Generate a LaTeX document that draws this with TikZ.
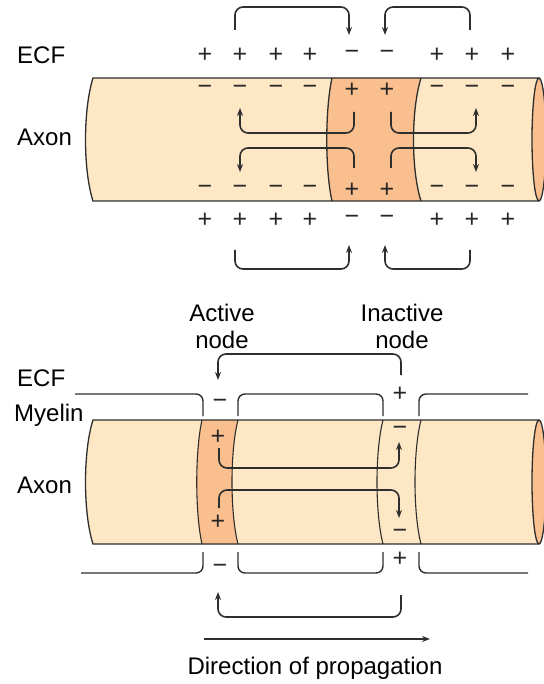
\documentclass[tikz,border=0pt]{standalone}
\usepackage{fontspec}
\setmainfont{Liberation Sans}
\usepackage{tikz}
\usetikzlibrary{arrows.meta,calc}
\usetikzlibrary{positioning}
\definecolor{axonfill}{HTML}{FDE7C4}
\definecolor{nodefill}{HTML}{F9BF8E}
\definecolor{linegray}{HTML}{2E2E2E}

\begin{document}
\begin{tikzpicture}[x=1pt,y=-1pt,>=Stealth,font=\fontsize{24}{27}\selectfont,
  current/.style={->,line width=1.6pt,draw=linegray,rounded corners=8pt,>={Stealth[length=8pt,width=6pt]}},
  outline/.style={line width=1.3pt,draw=linegray},
  myelin/.style={line width=1.4pt,draw=linegray,rounded corners=7pt},
  charge/.style={inner sep=0pt,font=\fontsize{25}{25}\selectfont,text=black!85},
  side/.style={inner sep=0pt,anchor=west}]
\useasboundingbox (0,0) rectangle (543,684);
% ---- continuous conduction (top) ----
\fill[axonfill] (93,78) .. controls (83,110) and (83,170) .. (93,201) -- (539,201) -- (539,78) -- cycle;
\fill[nodefill] (332,78) .. controls (325,110) and (325,170) .. (332,201) -- (421,201) .. controls (411,170) and (411,110) .. (421,78) -- cycle;
\draw[outline] (332,78) .. controls (325,110) and (325,170) .. (332,201);
\draw[outline] (421,78) .. controls (411,110) and (411,170) .. (421,201);
\draw[outline] (539,78) -- (93,78) .. controls (83,110) and (83,170) .. (93,201) -- (539,201);
\draw[outline,fill=nodefill] (539,139.5) ellipse [x radius=7, y radius=61.5];
\node[side] (ecfA) at (17,55) {ECF};
\node[side] (axonA) at (17,137) {Axon};
% charges: outside / inside
\foreach \x/\s/\t [count=\k] in {205/+/−,240/+/−,276/+/−,310/+/−,352/−/+,387/−/+,437/+/−,472/+/−,508/+/−}{
  \node[charge] (ot\k) at (\x,55) {\s};
  \node[charge] (it\k) at (\x,90) {\t};
  \node[charge] (ib\k) at (\x,190) {\t};
  \node[charge] (ob\k) at (\x,220) {\s};
}
% local currents
\coordinate (ua) at (235,30); \coordinate (ub) at (349,35);
\coordinate (uc) at (470,30); \coordinate (ud) at (385,35);
\coordinate (la) at (235,250); \coordinate (lb) at (349,245);
\coordinate (lc) at (470,250); \coordinate (ld) at (385,245);
\draw[current] (ua) -- ++(0,-23) -| (ub);
\draw[current] (uc) -- ++(0,-23) -| (ud);
\draw[current] (la) -- ++(0,19) -| (lb);
\draw[current] (lc) -- ++(0,19) -| (ld);
\coordinate (ia) at (354,112); \coordinate (ib) at (240,108);
\coordinate (ic) at (391,112); \coordinate (id) at (476,108);
\coordinate (ie) at (354,168); \coordinate (if) at (240,172);
\coordinate (ig) at (391,168); \coordinate (ih) at (476,172);
\draw[current] (ia) -- ++(0,21) -| (ib);
\draw[current] (ic) -- ++(0,21) -| (id);
\draw[current] (ie) -- ++(0,-20) -| (if);
\draw[current] (ig) -- ++(0,-20) -| (ih);
% ---- saltatory conduction (bottom) ----
\fill[axonfill] (93,420) .. controls (83,451) and (83,513) .. (93,544) -- (539,544) -- (539,420) -- cycle;
\fill[nodefill] (202,420) .. controls (195,451) and (195,513) .. (202,544) -- (238,544) .. controls (230,513) and (230,451) .. (238,420) -- cycle;
\foreach \a/\b in {202/195,238/230,383/375,421/413}
  \draw[outline,line width=1.1pt] (\a,420) .. controls (\b,451) and (\b,513) .. (\a,544);
\draw[outline] (539,420) -- (93,420) .. controls (83,451) and (83,513) .. (93,544) -- (539,544);
\draw[outline,fill=nodefill] (539,482) ellipse [x radius=7, y radius=62];
% myelin sheath
\draw[myelin] (75,394) -| (203,416);
\draw[myelin] (238,416) |- (383,394) -- (383,416);
\draw[myelin] (419,416) |- (528,394);
\draw[myelin] (81,573) -| (203,552);
\draw[myelin] (238,552) |- (383,573) -- (383,552);
\draw[myelin] (419,552) |- (528,573);
\node[side] (ecfB) at (17,378) {ECF};
\node[side] (myelin) at (14,415) {Myelin};
\node[side] (axonB) at (17,485) {Axon};
\node[inner sep=0pt,align=center] (active) at (222,326) {Active\\node};
\node[inner sep=0pt,align=center] (inactive) at (402,326) {Inactive\\node};
% charges at the nodes
\node[charge] (ao1) at (220,404) {−};
\node[charge] (io1) at (400,394) {+};
\node[charge] (ai1) at (218,437) {+};
\node[charge] (ii1) at (400,431) {−};
\node[charge] (ai2) at (218,522) {+};
\node[charge] (ii2) at (400,534) {−};
\node[charge] (ao2) at (220,569) {−};
\node[charge] (io2) at (400,559) {+};
% currents between nodes
\coordinate (sa) at (401,375); \coordinate (sb) at (218,380);
\coordinate (sc) at (401,595); \coordinate (sd) at (218,592);
\coordinate (se) at (219,448); \coordinate (sf) at (399,442);
\coordinate (sg) at (219,508); \coordinate (sh) at (399,518);
\draw[current] (sa) -- ++(0,-21) -| (sb);
\draw[current] (sc) -- ++(0,22) -| (sd);
\draw[current] (se) -- ++(0,20) -| (sf);
\draw[current] (sg) -- ++(0,-18) -| (sh);
% propagation
\coordinate (pa) at (204,639); \coordinate (pb) at (430,639);
\draw[current] (pa) -- (pb);
\node[inner sep=0pt] (dir) at (315,668) {Direction of propagation};
\end{tikzpicture}
\end{document}
